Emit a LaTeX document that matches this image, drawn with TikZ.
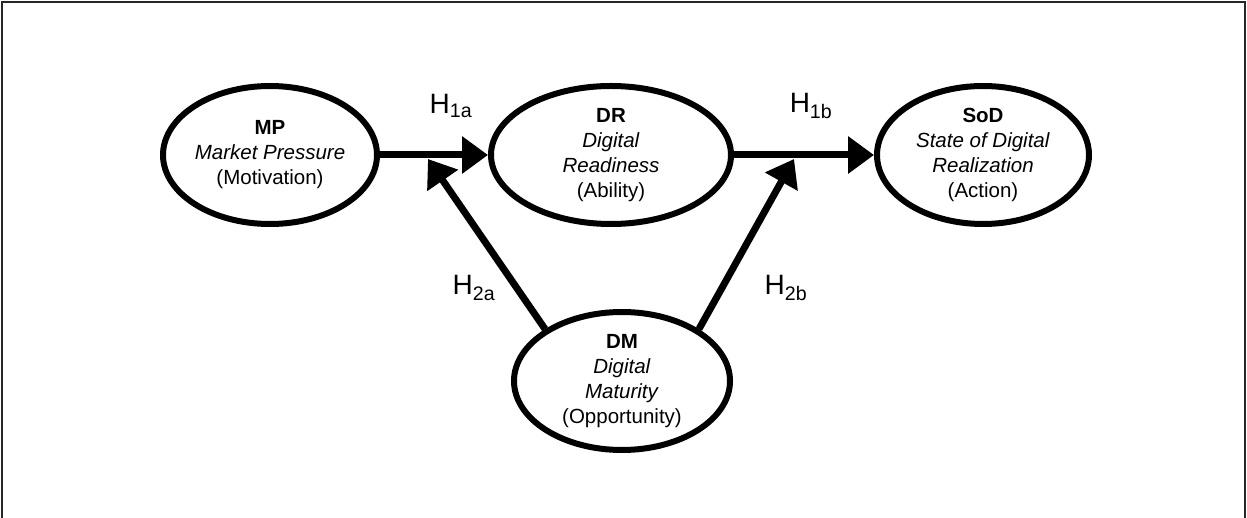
\documentclass[tikz,border=0pt]{standalone}
\usepackage{fontspec}
\setmainfont{Liberation Sans}
\usetikzlibrary{shapes.geometric,arrows.meta}
\begin{document}
\begin{tikzpicture}[x=1pt,y=-1pt,
  construct/.style={ellipse,draw,line width=6pt,inner sep=0pt,
    minimum width=214pt,minimum height=138pt,align=center,
    font=\fontsize{20.5}{25}\selectfont},
  link/.style={line width=7pt,-{Triangle[length=26pt,width=36pt]}},
  hyp/.style={font=\fontsize{28}{30}\selectfont,inner sep=0pt}]
\useasboundingbox (0,0) rectangle (1247,518);
% outer frame
\draw[line width=2.5pt,black!85] (2,520) -- (2,2) -- (1245,2) -- (1245,520);

% constructs
\node[construct] (MP) at (270,155) {\textbf{MP}\\\textit{Market Pressure}\\(Motivation)};
\node[construct,minimum width=240pt] (DR) at (611,155) {\textbf{DR}\\\textit{Digital}\\\textit{Readiness}\\(Ability)};
\node[construct,minimum width=212pt] (SoD) at (983,155) {\textbf{SoD}\\\textit{State of Digital}\\\textit{Realization}\\(Action)};
\node[construct,minimum width=216pt,minimum height=138pt] (DM) at (622,381) {\textbf{DM}\\\textit{Digital}\\\textit{Maturity}\\(Opportunity)};

% moderating targets on the main paths
\coordinate (t1) at (428,159);
\coordinate (t2) at (794,159);

% paths
\draw[link] (MP) -- (DR);
\draw[link] (DR) -- (SoD);
\draw[link] (DM.146) -- (t1);
\draw[link] (DM.34) -- (t2);

% hypothesis labels
\node[hyp] (h1a) at (451,106) {H\textsubscript{1a}};
\node[hyp] (h1b) at (811,106) {H\textsubscript{1b}};
\node[hyp] (h2a) at (474,288) {H\textsubscript{2a}};
\node[hyp] (h2b) at (786,288) {H\textsubscript{2b}};
\end{tikzpicture}
\end{document}
